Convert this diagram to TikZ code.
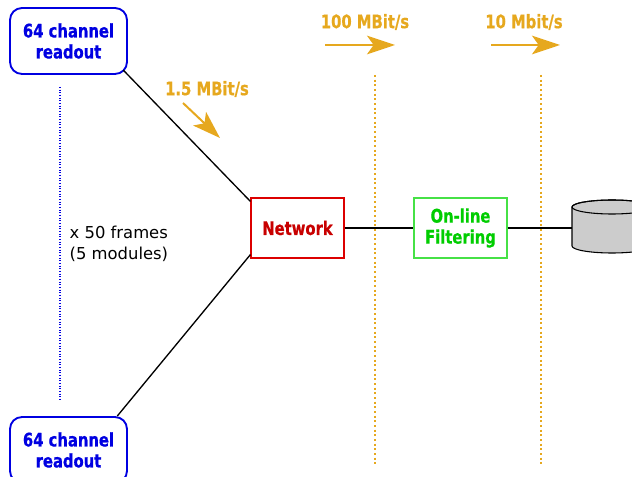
\documentclass[tikz,border=0pt]{standalone}
\usepackage{fontspec}
\setmainfont{DejaVu Sans}
\newfontfamily\labelfont{DejaVu Sans Condensed Bold}[FakeStretch=0.88,FakeBold=0.6]
\usetikzlibrary{arrows.meta}
\definecolor{rblue}{RGB}{0,0,225}
\definecolor{rorange}{RGB}{230,168,30}
\definecolor{rred}{RGB}{220,0,0}
\definecolor{tred}{RGB}{200,0,0}
\definecolor{rgreen}{RGB}{70,225,70}
\definecolor{tgreen}{RGB}{0,205,0}
\definecolor{dgray}{RGB}{204,204,204}

\begin{document}
\begin{tikzpicture}[x=0.75pt,y=-0.75pt,
  lbl/.style={font=\labelfont\fontsize{14}{15.75}\selectfont},
  readout/.style={lbl,draw=rblue,line width=1.4pt,rounded corners=9pt,minimum width=87.75pt,minimum height=49.5pt,text=rblue,align=center},
  stage/.style={lbl,draw=#1,line width=0.8pt,minimum width=69.75pt,minimum height=45pt,align=center},
  rate/.style={lbl,text=rorange},
  ratearrow/.style={rorange,line width=1.5pt,-{Stealth[length=21pt,width=14pt,inset=5pt]}},
  bar/.style={rorange,line width=1.3pt,dash pattern=on 1.5pt off 2pt}]
\useasboundingbox (0,0) rectangle (632,477);
\node[readout] (rtop) at (68.5,41) {64 channel\\readout};
\node[readout] (rbot) at (68.5,450) {64 channel\\readout};
\draw[rblue,line width=1pt,dash pattern=on 0.8pt off 1.2pt] (60,87) -- (60,400);
\node[anchor=west,align=left,font=\fontsize{12.3}{15.75}\selectfont] (frames) at (65,244) {x 50 frames\\(5 modules)};
\node[stage=rred,text=tred] (net) at (297.5,228) {Network};
\node[stage=rgreen,text=tgreen] (filt) at (460.5,228) {On-line\\Filtering};
\coordinate (disk) at (572,228);
\draw[bar] (375,75) -- (375,465);
\draw[bar] (541,75) -- (541,465);
\draw[line width=1pt,shorten <=-5pt] (rtop.south east) -- ([yshift=-3pt]net.north west);
\draw[line width=1pt] ([xshift=-8pt]rbot.north east) -- ([yshift=3pt]net.south west);
\draw[line width=1pt] (net) -- (filt);
\draw[line width=1pt] (filt) -- (disk);
\filldraw[fill=dgray,line width=0.8pt] (572,207) -- (572,246) arc[start angle=180,end angle=0,x radius=40,y radius=7] -- (652,207) arc[start angle=0,end angle=-180,x radius=40,y radius=7] -- cycle;
\draw[line width=0.8pt] (612,207) ellipse [x radius=40,y radius=7];
\node[rate] (r15) at (207,89) {1.5 MBit/s};
\draw[ratearrow] (183,103) -- (220,138);
\node[rate] (r100) at (365,22) {100 MBit/s};
\draw[ratearrow] (325,45) -- (395,45);
\node[rate] (r10) at (524,22) {10 Mbit/s};
\draw[ratearrow] (491,45) -- (560,45);
\end{tikzpicture}
\end{document}
